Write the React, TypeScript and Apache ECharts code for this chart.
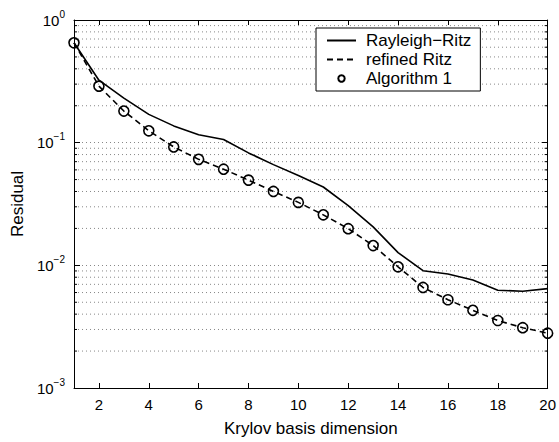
import React, { useEffect, useRef } from "react";
import * as echarts from "echarts";

const dims = [1, 2, 3, 4, 5, 6, 7, 8, 9, 10, 11, 12, 13, 14, 15, 16, 17, 18, 19, 20];
const rayleighRitz = [0.652, 0.323, 0.231, 0.17, 0.137, 0.116, 0.106, 0.0825, 0.0662, 0.054, 0.0435, 0.0307, 0.0206, 0.0127, 0.00904, 0.0085, 0.0076, 0.00627, 0.00615, 0.00646];
const refinedRitz = [0.652, 0.289, 0.181, 0.125, 0.0923, 0.0731, 0.0608, 0.0495, 0.04, 0.0326, 0.0258, 0.0199, 0.0145, 0.00973, 0.0066, 0.00524, 0.0043, 0.00355, 0.0031, 0.0028];
const algorithm1 = [0.652, 0.289, 0.181, 0.125, 0.0923, 0.0731, 0.0608, 0.0495, 0.04, 0.0326, 0.0258, 0.0199, 0.0145, 0.00973, 0.0066, 0.00524, 0.0043, 0.00355, 0.0031, 0.0028];
const minorGridValues = [
  0.002, 0.003, 0.004, 0.005, 0.006, 0.007, 0.008, 0.009,
  0.02, 0.03, 0.04, 0.05, 0.06, 0.07, 0.08, 0.09,
  0.2, 0.3, 0.4, 0.5, 0.6, 0.7, 0.8, 0.9,
];
const seriesNames = ["Rayleigh\u2212Ritz", "refined Ritz", "Algorithm 1"];
const yMin = 0.001;
const yMax = 1;
const xAxisTitle = "Krylov basis dimension";
const yAxisTitle = "Residual";

const FONT = "'Liberation Sans', Arial, Helvetica, sans-serif";

export default function App() {
  const ref = useRef<HTMLDivElement>(null);
  useEffect(() => {
    const chart = echarts.init(ref.current as HTMLDivElement, null, { renderer: "svg" });
    const xMin = dims[0];
    const xMax = dims[dims.length - 1];
    const yLabel = (v: number) => {
      const e = Math.round(Math.log10(v));
      return `{b|10}{s|${e < 0 ? "\u2212" + -e : e}}`;
    };
    const xAxisCommon = {
      type: "value",
      min: xMin,
      max: xMax,
      minInterval: 2,
      maxInterval: 2,
      splitNumber: 10,
      axisLine: { show: true, onZero: false, lineStyle: { color: "#000", width: 1 } },
      axisTick: { show: true, inside: true, length: 5, lineStyle: { color: "#000" } },
      splitLine: { show: false },
    };
    const yAxisCommon = {
      type: "log",
      logBase: 10,
      min: yMin,
      max: yMax,
      axisLine: { show: true, onZero: false, lineStyle: { color: "#000", width: 1 } },
      axisTick: { show: true, inside: true, length: 6, lineStyle: { color: "#000" } },
    };
    const option = {
      animation: false,
      backgroundColor: "#fff",
      textStyle: { fontFamily: FONT },
      grid: { left: 74, right: 9, top: 20, bottom: 46, containLabel: false },
      legend: {
        orient: "vertical",
        left: 316,
        top: 28,
        padding: [3, 9, 3, 10],
        itemGap: 0,
        itemWidth: 29,
        itemHeight: 8,
        backgroundColor: "#fff",
        borderColor: "#000",
        borderWidth: 1,
        borderRadius: 0,
        z: 20,
        textStyle: { fontFamily: FONT, fontSize: 17, color: "#000", lineHeight: 19, padding: [0, 0, 0, 5] },
        data: [
          { name: seriesNames[0], itemStyle: { color: "rgba(0,0,0,0)", borderWidth: 0 } },
          { name: seriesNames[1], itemStyle: { color: "rgba(0,0,0,0)", borderWidth: 0 } },
          { name: seriesNames[2], lineStyle: { opacity: 0, width: 0 } },
        ],
      },
      xAxis: [
        {
          ...xAxisCommon,
          position: "bottom",
          name: xAxisTitle,
          nameLocation: "middle",
          nameGap: 32,
          nameTextStyle: { fontFamily: FONT, fontSize: 17, color: "#000" },
          axisLabel: {
            show: true,
            showMinLabel: false,
            margin: 9,
            fontFamily: FONT,
            fontSize: 15,
            color: "#000",
          },
        },
        {
          ...xAxisCommon,
          position: "top",
          axisLabel: { show: false },
        },
      ],
      yAxis: [
        {
          ...yAxisCommon,
          position: "left",
          name: yAxisTitle,
          nameLocation: "middle",
          nameGap: 48,
          nameTextStyle: { fontFamily: FONT, fontSize: 17, color: "#000" },
          splitLine: { show: true, lineStyle: { color: "#888", width: 1, type: [1, 3] } },
          axisLabel: {
            show: true,
            margin: 9,
            formatter: yLabel,
            rich: {
              b: { fontFamily: FONT, fontSize: 15, color: "#000", lineHeight: 15 },
              s: { fontFamily: FONT, fontSize: 10, color: "#000", lineHeight: 11, padding: [0, 0, 12, 0] },
            },
          },
        },
        {
          ...yAxisCommon,
          position: "right",
          splitLine: { show: false },
          axisLabel: { show: false },
        },
      ],
      series: [
        {
          type: "custom",
          name: "minorGrid",
          silent: true,
          z: 0,
          xAxisIndex: 0,
          yAxisIndex: 0,
          data: minorGridValues.map((v) => [xMin, v]),
          renderItem: (params: any, api: any) => {
            const v = api.value(1);
            const a = api.coord([xMin, v]);
            const b = api.coord([xMax, v]);
            return {
              type: "group",
              children: [
                {
                  type: "line",
                  shape: { x1: a[0], y1: a[1], x2: b[0], y2: b[1] },
                  style: { stroke: "#888", lineWidth: 1, lineDash: [1, 3] },
                },
                {
                  type: "line",
                  shape: { x1: a[0], y1: a[1], x2: a[0] + 3, y2: a[1] },
                  style: { stroke: "#000", lineWidth: 1 },
                },
                {
                  type: "line",
                  shape: { x1: b[0] - 3, y1: b[1], x2: b[0], y2: b[1] },
                  style: { stroke: "#000", lineWidth: 1 },
                },
              ],
            };
          },
        },
        {
          type: "line",
          name: seriesNames[0],
          z: 3,
          data: dims.map((d, i) => [d, rayleighRitz[i]]),
          symbol: "none",
          lineStyle: { color: "#000", width: 1.6, type: "solid" },
          itemStyle: { color: "#000" },
        },
        {
          type: "line",
          name: seriesNames[1],
          z: 3,
          data: dims.map((d, i) => [d, refinedRitz[i]]),
          symbol: "none",
          lineStyle: { color: "#000", width: 1.6, type: [6, 4] },
          itemStyle: { color: "#000" },
        },
        {
          type: "line",
          name: seriesNames[2],
          z: 4,
          data: dims.map((d, i) => [d, algorithm1[i]]),
          symbol: "circle",
          symbolSize: 10,
          showSymbol: true,
          lineStyle: { width: 0, opacity: 0 },
          itemStyle: { color: "rgba(0,0,0,0)", borderColor: "#000", borderWidth: 1.6 },
        },
      ],
    };
    chart.setOption(option as any);
    return () => {
      chart.dispose();
    };
  }, []);
  return (
    <div
      ref={ref}
      style={{ position: "absolute", left: 0, top: 0, width: 559, height: 442, background: "#fff" }}
    />
  );
}
